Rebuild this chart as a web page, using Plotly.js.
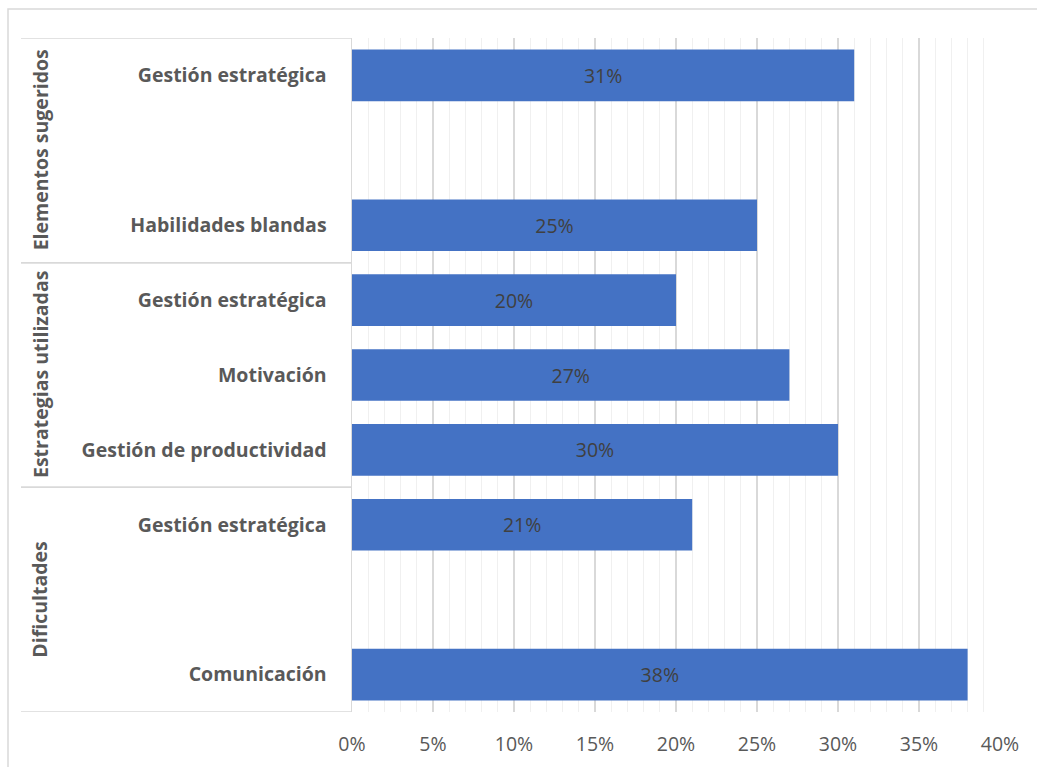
<!DOCTYPE html>
<html>
<head>
<meta charset="utf-8">
<script src="https://cdn.plot.ly/plotly-3.0.1.min.js"></script>
<style>html,body{margin:0;padding:0;background:#fff;}#chart{width:1037px;height:767px;}</style>
</head>
<body>
<div id="chart"></div>
<script>
// Rows from bottom to top (blank rows are empty slots, as in the source sheet)
var groups = ['Dificultades', 'Dificultades', 'Dificultades',
              'Estrategias utilizadas', 'Estrategias utilizadas', 'Estrategias utilizadas',
              'Elementos sugeridos', 'Elementos sugeridos', 'Elementos sugeridos'];
var categories = ['Comunicación', '', 'Gestión estratégica',
                  'Gestión de productividad', 'Motivación', 'Gestión estratégica',
                  'Habilidades blandas', '', 'Gestión estratégica'];
var values = [0.38, null, 0.21, 0.30, 0.27, 0.20, 0.25, null, 0.31];
var groupNames = ['Dificultades', 'Estrategias utilizadas', 'Elementos sugeridos'];

var pos = categories.map(function(c, i){ return i; });

var groupAnn = [], groupLines = [];
var L = 352, R = 1000, W = R - L;
function px(x){ return (x - L) / W; }
var lineColor = '#d9d9d9';
groupNames.forEach(function(g){
  var idx = pos.filter(function(i){ return groups[i] === g; });
  var lo = Math.min.apply(null, idx) - 0.5, hi = Math.max.apply(null, idx) + 0.5;
  groupAnn.push({
    xref: 'paper', yref: 'y', x: px(40), y: (lo + hi) / 2,
    text: '<b>' + g + '</b>', showarrow: false, textangle: -90,
    font: {family: 'Open Sans, sans-serif', size: 19.5, color: '#595959'},
    xanchor: 'center', yanchor: 'middle'
  });
  [lo, hi].forEach(function(yv){
    groupLines.push({type: 'line', xref: 'paper', yref: 'y', x0: px(21), x1: 0, y0: yv, y1: yv,
      line: {color: lineColor, width: 1.5}, layer: 'above'});
  });
});
// outer chart border
groupLines.push({type: 'rect', xref: 'paper', yref: 'paper',
  x0: px(8), x1: px(1045), y0: (712 - 775) / 674, y1: (712 - 9) / 674,
  line: {color: '#d9d9d9', width: 1.5}, fillcolor: 'rgba(0,0,0,0)', layer: 'below'});

var trace = {
  type: 'bar', orientation: 'h',
  y: pos, x: values,
  width: 0.69,
  marker: {color: '#4472c4'},
  text: values.map(function(v){ return v === null ? '' : Math.round(v * 100) + '%'; }),
  textposition: 'inside', insidetextanchor: 'middle', constraintext: 'none',
  textfont: {family: 'Open Sans, sans-serif', size: 19.5, color: '#404040'},
  hoverinfo: 'skip', cliponaxis: false
};

var layout = {
  width: 1037, height: 767,
  margin: {l: L, r: 1037 - R, t: 38, b: 767 - 712},
  paper_bgcolor: '#ffffff', plot_bgcolor: '#ffffff',
  showlegend: false,
  xaxis: {
    range: [0, 0.40], dtick: 0.05, tick0: 0, tickformat: '.0%',
    showgrid: true, gridcolor: '#d9d9d9', gridwidth: 1.3,
    minor: {dtick: 0.01, showgrid: true, gridcolor: '#f0f0f0', gridwidth: 1.3},
    zeroline: false, showline: false,
    ticks: 'outside', ticklen: 15, tickcolor: 'rgba(0,0,0,0)',
    tickfont: {family: 'Open Sans, sans-serif', size: 19.5, color: '#595959'},
    fixedrange: true
  },
  yaxis: {
    range: [-0.5, 8.5],
    tickmode: 'array', tickvals: pos, ticktext: categories.map(function(c){ return c ? '<b>' + c + '</b>' : ''; }),
    showgrid: false, zeroline: false,
    showline: true, linecolor: '#d9d9d9', linewidth: 1.5,
    ticks: 'outside', ticklen: 20, tickcolor: 'rgba(0,0,0,0)',
    tickfont: {family: 'Open Sans, sans-serif', size: 19.5, color: '#595959'},
    fixedrange: true
  },
  annotations: groupAnn,
  shapes: groupLines
};

Plotly.newPlot('chart', [trace], layout, {displayModeBar: false, staticPlot: true});
</script>
</body>
</html>
